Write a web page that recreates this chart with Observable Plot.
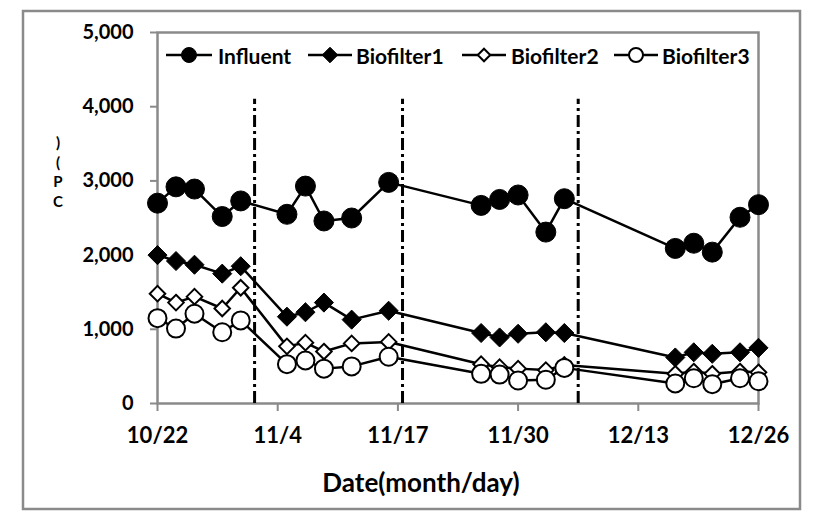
<!DOCTYPE html>
<html><head><meta charset="utf-8">
<script src="https://cdn.jsdelivr.net/npm/d3@7"></script>
<script src="https://cdn.jsdelivr.net/npm/@observablehq/plot@0.6"></script>
<style>
body{margin:0;background:#fff;}
#wrap{position:relative;width:823px;height:529px;font-family:Lato,"Noto Sans",sans-serif;}
#wrap svg{position:absolute;left:0;top:0;}
</style></head><body><div id="wrap"></div>
<script>
// ---- data ----
const dates = ["10/22","10/24","10/26","10/29","10/31","11/5","11/7","11/9","11/12","11/16",
               "11/26","11/28","11/30","12/3","12/5","12/17","12/19","12/21","12/24","12/26"];
const influent   = [2700,2920,2890,2520,2730,2550,2930,2460,2500,2980,2670,2750,2810,2310,2760,2090,2160,2040,2510,2680];
const biofilter1 = [2000,1920,1870,1750,1850,1170,1230,1360,1130,1250, 950, 890, 940, 960, 950, 620, 690, 670, 690, 750];
const biofilter2 = [1480,1360,1440,1280,1560, 770, 820, 700, 810, 830, 530, 490, 470, 450, 520, 400, 430, 400, 430, 420];
const biofilter3 = [1150,1010,1210, 960,1120, 530, 580, 470, 500, 630, 400, 390, 310, 320, 480, 270, 340, 260, 340, 300];
const seriesNames = ["Influent","Biofilter1","Biofilter2","Biofilter3"];
const xTickLabels = ["10/22","11/4","11/17","11/30","12/13","12/26"];
const yTicks = [0,1000,2000,3000,4000,5000];
const phaseBreaks = ["11/1 12","11/17 12","12/6 12"]; // month/day hour
const phaseTop = 4100;
const yLabelChars = [")","(","P","C"];
const xTitle = "Date(month/day)";

// ---- helpers ----
const YEAR = 2012;
function parseMD(s){ const [md,h] = s.split(" "); const [m,d] = md.split("/").map(Number); return new Date(Date.UTC(YEAR,m-1,d,h?+h:0)); }
const fmtMD = d => `${d.getUTCMonth()+1}/${d.getUTCDate()}`;

const values = [influent, biofilter1, biofilter2, biofilter3];
const styles = [
  {symbol:"circle",   r:10,  fill:"black", stroke:"black", strokeWidth:1},
  {symbol:"diamond2", r:8.6, fill:"black", stroke:"black", strokeWidth:1},
  {symbol:"diamond2", r:7.0, fill:"white", stroke:"black", strokeWidth:2},
  {symbol:"circle",   r:9,   fill:"white", stroke:"black", strokeWidth:2}
];
const rows = seriesNames.map((name,i) => dates.map((d,j) => ({series:name, date:parseMD(d), value:values[i][j]})));

const gray = "#8a8a8a";
const marks = [
  Plot.frame({stroke:gray, strokeWidth:2.5}),
  Plot.ruleX(phaseBreaks.map(parseMD), {y1:0, y2:phaseTop, stroke:"black", strokeWidth:3, strokeDasharray:"12,4,3,4"}),
  Plot.axisY({ticks:yTicks, tickSize:7, tickPadding:17, tickFormat:d3.format(","), stroke:gray, strokeWidth:2, fill:"black", label:null, fontSize:20}),
  Plot.axisX({ticks:xTickLabels.map(parseMD), tickSize:8, tickPadding:16, tickFormat:fmtMD, stroke:gray, strokeWidth:2, fill:"black", label:null, fontSize:22})
];
rows.forEach((r,i) => {
  marks.push(Plot.line(r, {x:"date", y:"value", stroke:"black", strokeWidth:2.5}));
  marks.push(Plot.dot(r, {x:"date", y:"value", ...styles[i]}));
});

const chart = Plot.plot({
  width:823, height:529,
  marginLeft:157, marginRight:65, marginTop:32, marginBottom:126,
  x:{type:"utc", domain:[parseMD(dates[0]), parseMD(dates[dates.length-1])], axis:null},
  y:{domain:[0,5000], axis:null},
  style:{fontFamily:"Lato, 'Noto Sans', sans-serif", fontSize:"20px", fontWeight:"bold", color:"black", background:"white"},
  marks
});
const wrap = document.getElementById("wrap");
wrap.appendChild(chart);

// ---- overlay: outer frame, legend, axis titles ----
const ov = d3.select(wrap).append("svg").attr("width",823).attr("height",529)
  .style("pointer-events","none").style("font-family","Lato, 'Noto Sans', sans-serif").style("font-weight","bold");
ov.append("rect").attr("x",23).attr("y",11).attr("width",777).attr("height",498)
  .attr("fill","none").attr("stroke",gray).attr("stroke-width",2.5);

const legendY = 55;
const legendItems = [
  {x1:166, x2:212, tx:218},
  {x1:308, x2:352, tx:356},
  {x1:462, x2:506, tx:511},
  {x1:614, x2:658, tx:662}
];
const legendSym = [
  {type:d3.symbolCircle, size:Math.PI*7.5*7.5, fill:"black", sw:1},
  {type:d3.symbolDiamond2, size:Math.PI*7*7, fill:"black", sw:1},
  {type:d3.symbolDiamond2, size:Math.PI*5.6*5.6, fill:"white", sw:2},
  {type:d3.symbolCircle, size:Math.PI*7*7, fill:"white", sw:2}
];
seriesNames.forEach((name,i) => {
  const it = legendItems[i], s = legendSym[i];
  const g = ov.append("g");
  g.append("line").attr("x1",it.x1).attr("x2",it.x2).attr("y1",legendY).attr("y2",legendY).attr("stroke","black").attr("stroke-width",2.5);
  g.append("path").attr("d", d3.symbol(s.type, s.size)()).attr("transform",`translate(${(it.x1+it.x2)/2},${legendY})`)
    .attr("fill",s.fill).attr("stroke","black").attr("stroke-width",s.sw);
  g.append("text").attr("x",it.tx).attr("y",legendY).attr("dominant-baseline","central").attr("font-size",21).text(name);
});

ov.append("text").attr("x",421).attr("y",482).attr("text-anchor","middle").attr("dominant-baseline","central")
  .attr("font-size",26).text(xTitle);

// garbled stacked y-axis label (one glyph per row, spaced so rows do not overlap)
yLabelChars.forEach((c,i) => ov.append("text").attr("x",58).attr("y",142 + i*19.5)
  .attr("text-anchor","middle").attr("dominant-baseline","central").attr("font-size",15).text(c));
</script></body></html>
